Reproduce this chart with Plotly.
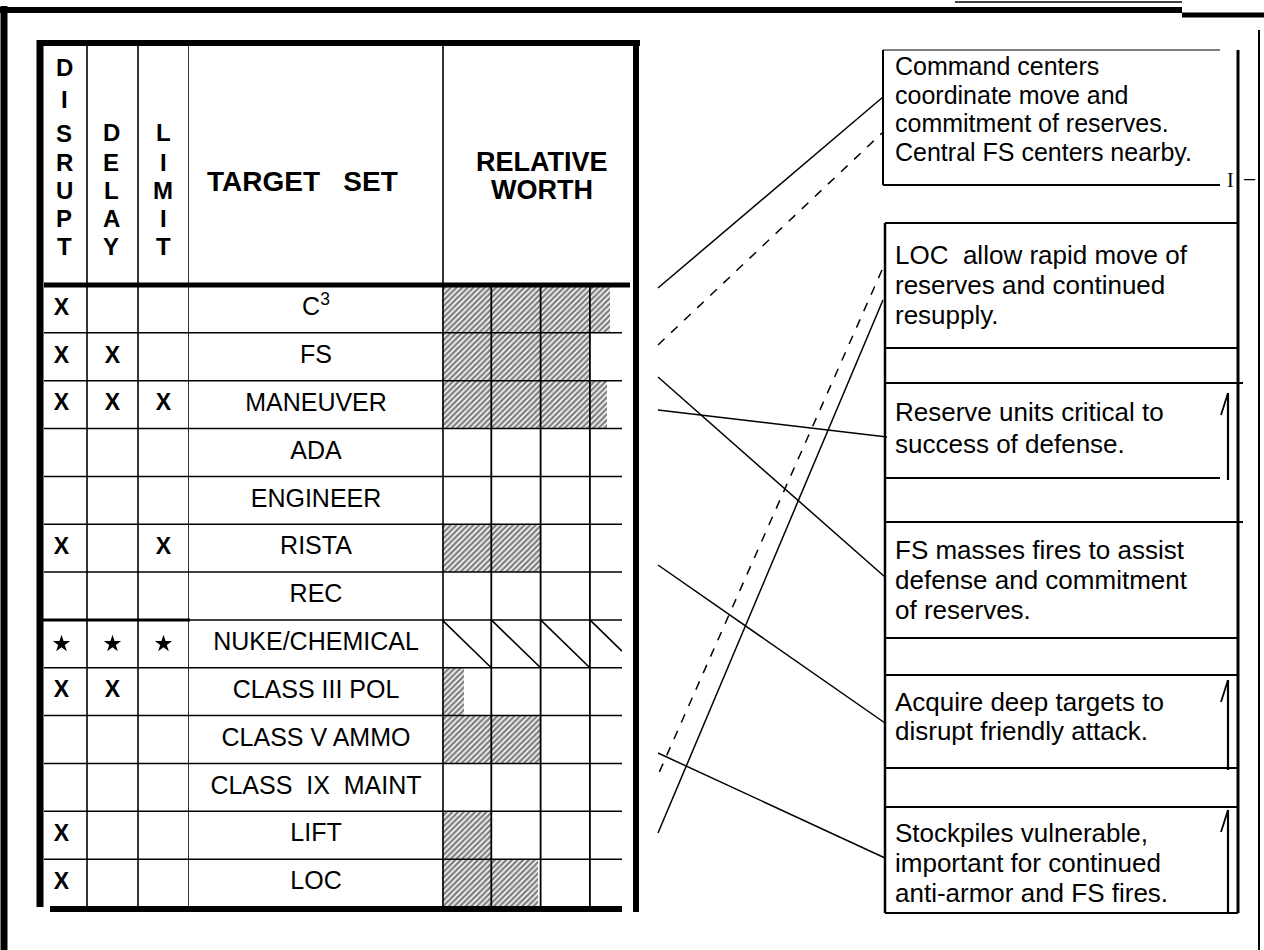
import plotly.graph_objects as go

W, H = 1264, 950
FONT = "Liberation Sans, Arial, sans-serif"

# ---------------- data ----------------
targets = ["C<sup>3</sup>", "FS", "MANEUVER", "ADA", "ENGINEER", "RISTA", "REC",
           "NUKE/CHEMICAL", "CLASS III POL", "CLASS V AMMO",
           "CLASS\u00a0\u00a0IX\u00a0\u00a0MAINT", "LIFT", "LOC"]
disrupt = ["X", "X", "X", "", "", "X", "", "*", "X", "", "", "X", "X"]
delay   = ["", "X", "X", "", "", "", "", "*", "X", "", "", "", ""]
limit   = ["", "", "X", "", "", "X", "", "*", "", "", "", "", ""]
worth   = [3.4, 3.0, 3.35, 0, 0, 2.0, 0, None, 0.45, 2.0, 0, 1.0, 1.95]
struck_row = "NUKE/CHEMICAL"
worth_cells = 4

header_words = ["DISRUPT", "DELAY", "LIMIT"]
notes = [
    ["Command centers", "coordinate move and", "commitment of reserves.", "Central FS centers nearby."],
    ["LOC\u00a0\u00a0allow rapid move of", "reserves and continued", "resupply."],
    ["Reserve units critical to", "success of defense."],
    ["FS masses fires to assist", "defense and commitment", "of reserves."],
    ["Acquire deep targets to", "disrupt friendly attack."],
    ["Stockpiles vulnerable,", "important for continued", "anti-armor and FS fires."],
]

# ---------------- layout geometry (pixels) ----------------
TBL_TOP, HDR_BOT, TBL_BOT = 43, 285, 907
n = len(targets)
rows = list(range(n))
WORTH_L, WORTH_R, UNIT = 442, 622, 49.3
xmax2 = (WORTH_R - WORTH_L) / UNIT

fig = go.Figure()

# hatched relative-worth bars
fig.add_trace(go.Bar(
    y=rows, x=worth, orientation="h", width=1.0, base=0,
    xaxis="x2", yaxis="y2", hoverinfo="skip",
    marker=dict(color="white", line=dict(width=0),
                pattern=dict(shape="/", fgcolor="black", bgcolor="white",
                             size=4, solidity=0.62)),
))

# struck (diagonal) cells
r = targets.index(struck_row)
dx, dy = [], []
for k in range(worth_cells):
    x0 = k
    x1 = min(k + 1, xmax2)
    dx += [x0, x1, None]
    dy += [r - 0.5, r - 0.5 + (x1 - x0), None]
fig.add_trace(go.Scatter(x=dx, y=dy, mode="lines", xaxis="x2", yaxis="y2",
                         line=dict(color="black", width=1.6), hoverinfo="skip"))

# X marks and stars
for ci, col in enumerate([disrupt, delay, limit]):
    xs = [ci for v in col if v == "X"]
    ys = [i for i, v in enumerate(col) if v == "X"]
    fig.add_trace(go.Scatter(x=xs, y=ys, mode="text", text=["X"] * len(xs),
                             xaxis="x3", yaxis="y2", hoverinfo="skip",
                             textfont=dict(family=FONT, size=23, color="black", weight="bold")))
    xs = [ci for v in col if v == "*"]
    ys = [i for i, v in enumerate(col) if v == "*"]
    fig.add_trace(go.Scatter(x=xs, y=ys, mode="markers", xaxis="x3", yaxis="y2",
                             hoverinfo="skip",
                             marker=dict(symbol="star", size=13, color="black")))

# target names
fig.add_trace(go.Scatter(x=[316] * n, y=rows, mode="text", text=targets,
                         xaxis="x", yaxis="y2", hoverinfo="skip",
                         textfont=dict(family=FONT, size=25, color="black")))

shapes = []


def seg(x0, y0, x1, y1, w=1.5, xref="x", yref="y", dash="solid"):
    shapes.append(dict(type="line", x0=x0, y0=y0, x1=x1, y1=y1, xref=xref, yref=yref,
                       line=dict(color="black", width=w, dash=dash)))


# page frame
seg(4, 6, 4, 950, 7)
seg(0, 10, 1182, 10, 6)
seg(1182, 15, 1264, 15, 5)
seg(955, 2, 1182, 2, 1.5)
seg(1259, 30, 1259, 950, 2)

# table borders
seg(40, TBL_TOP - 3, 40, TBL_BOT, 7)
seg(37, TBL_TOP, 640, TBL_TOP, 6)
seg(636, TBL_TOP - 3, 636, TBL_BOT + 5, 6)
seg(44, HDR_BOT, 630, HDR_BOT, 5)
seg(50, TBL_BOT + 2, 622, TBL_BOT + 2, 6)

# column lines
for cx in [0.5, 1.5, 2.5]:
    seg(cx, TBL_TOP, cx, TBL_BOT, 1.6, xref="x3")
seg(443, TBL_TOP, 443, TBL_BOT, 1.6)
for g in range(1, worth_cells):
    seg(g, HDR_BOT, g, TBL_BOT, 1.8, xref="x2")

# row lines
for i in range(n - 1):
    seg(44, i + 0.5, 622, i + 0.5, 1.5, yref="y2")
seg(40, r - 0.5, 190, r - 0.5, 3, yref="y2")

# right-hand note boxes
seg(883, 50, 883, 185, 2)
seg(883, 50, 1220, 50, 1.2)
seg(883, 185, 1220, 185, 2)
seg(1238, 50, 1238, 913, 3)
seg(885, 223, 885, 913, 2.5)
for yy, xr in [(223, 1238), (348, 1238), (383, 1243), (478, 1220), (522, 1243),
               (638, 1238), (675, 1238), (768, 1238), (807, 1238), (913, 1238)]:
    seg(885, yy, xr, yy, 2)
for y0, y1 in [(393, 480), (680, 770), (810, 913)]:
    seg(1228, y0, 1228, y1, 2.2)
    seg(1221, y0 + 22, 1228, y0, 1.8)

# leader lines
leaders = [
    (658, 288, 883, 97, "solid"),
    (658, 345, 882, 133, "dash"),
    (658, 377, 885, 577, "solid"),
    (658, 410, 887, 437, "solid"),
    (882, 270, 658, 775, "dash"),
    (883, 300, 658, 833, "solid"),
    (658, 565, 885, 723, "solid"),
    (658, 753, 885, 858, "solid"),
]
for x0, y0, x1, y1, d in leaders:
    seg(x0, y0, x1, y1, 1.5, dash=d)

annotations = []


def txt(x, y, s, size, bold=False, xanchor="center", family=FONT):
    annotations.append(dict(x=x, y=y, xref="x", yref="y", text=s, showarrow=False,
                            xanchor=xanchor, yanchor="middle",
                            font=dict(family=family, size=size, color="black",
                                      weight="bold" if bold else "normal")))


# vertical header words
hdr_x = [64, 111, 163]
hdr_y = [[67, 99, 133, 162, 190, 218, 246],
         [132, 162, 190, 218, 246],
         [132, 162, 190, 218, 246]]
for word, xx, ylist in zip(header_words, hdr_x, hdr_y):
    for ch, yy in zip(word, ylist):
        txt(xx, yy, ch, 24, bold=True)

txt(302, 181, "TARGET\u00a0\u00a0\u00a0SET", 28, bold=True)
txt(542, 162, "RELATIVE", 27, bold=True)
txt(542, 190, "WORTH", 27, bold=True)

note_y = [[66, 94.5, 123, 151.5], [255, 285, 315], [412, 444], [550, 580, 610],
          [702, 731], [833, 863, 893]]
note_size = [25, 26, 26, 26, 26, 26]
for lines, ys, fs in zip(notes, note_y, note_size):
    for s, yy in zip(lines, ys):
        txt(893, yy, s, fs, xanchor="left")

txt(1230, 180, "I", 20, family="Liberation Serif, serif")
txt(1250, 178, "\u2013", 20)

fig.update_layout(
    width=W, height=H, margin=dict(l=0, r=0, t=0, b=0, pad=0),
    paper_bgcolor="white", plot_bgcolor="rgba(0,0,0,0)",
    showlegend=False, barmode="overlay", bargap=0,
    xaxis=dict(range=[0, W], domain=[0, 1], visible=False, fixedrange=True),
    yaxis=dict(range=[H, 0], domain=[0, 1], visible=False, fixedrange=True),
    xaxis2=dict(range=[0, xmax2], domain=[WORTH_L / W, WORTH_R / W], anchor="y2",
                visible=False, fixedrange=True),
    yaxis2=dict(range=[n - 0.5, -0.5], domain=[1 - TBL_BOT / H, 1 - HDR_BOT / H],
                anchor="x2", visible=False, fixedrange=True),
    xaxis3=dict(range=[-0.5, 2.5], domain=[36 / W, 189 / W], anchor="y2",
                visible=False, fixedrange=True),
    shapes=shapes, annotations=annotations,
)

fig.write_html("out.html", config={"displayModeBar": False},
               post_script="document.body.style.margin='0';document.body.style.overflow='hidden';")
